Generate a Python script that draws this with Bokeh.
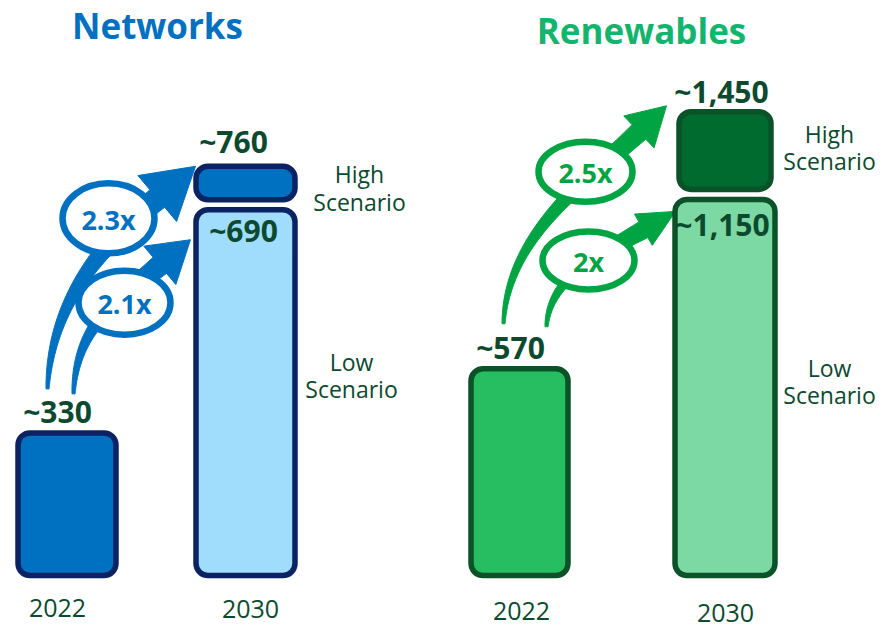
import numpy as np
from bokeh.plotting import figure
from bokeh.layouts import row
from bokeh.models import Range1d
from bokeh.core.properties import value
from bokeh.embed import file_html
from bokeh.resources import INLINE

# ---------------- data ----------------
panel_titles = ["Networks", "Renewables"]
years = ["2022", "2030"]
net_values = [330, 690, 760]          # 2022, 2030 low, 2030 high
ren_values = [570, 1150, 1450]
net_value_labels = ["~330", "~690", "~760"]
ren_value_labels = ["~570", "~1,150", "~1,450"]
net_growth = ["2.1x", "2.3x"]          # low, high
ren_growth = ["2x", "2.5x"]
scenario_labels = ["High\nScenario", "Low\nScenario"]

TXT = "#0B4A2F"
FONT = "Open Sans"
BASE = 575   # pixel row of bar bottoms
H = 628


def cubic(p0, p1, p2, p3, t):
    t = t[:, None]
    return ((1 - t) ** 3) * p0 + 3 * ((1 - t) ** 2) * t * p1 + 3 * (1 - t) * t * t * p2 + (t ** 3) * p3


def cubic_d(p0, p1, p2, p3, t):
    t = t[:, None]
    return 3 * ((1 - t) ** 2) * (p1 - p0) + 6 * (1 - t) * t * (p2 - p1) + 3 * t * t * (p3 - p2)


def arrow_px(tail, tip, d, head_len, head_half, w_base, w_tail, c1_off, c2_len, n=60):
    d = np.array(d, float)
    d = d / np.hypot(*d)
    tip = np.array(tip, float)
    p0 = np.array(tail, float)
    p3 = tip - head_len * d
    p1 = p0 + np.array(c1_off, float)
    p2 = p3 - c2_len * d
    t = np.linspace(0, 1, n)
    pts = cubic(p0, p1, p2, p3, t)
    tg = cubic_d(p0, p1, p2, p3, t)
    tg = tg / np.hypot(tg[:, 0], tg[:, 1])[:, None]
    nrm = np.stack([-tg[:, 1], tg[:, 0]], axis=1)
    w = (w_tail + (w_base - w_tail) * t ** 0.9)[:, None] / 2
    left = pts + nrm * w
    right = pts - nrm * w
    ne = np.array([-d[1], d[0]])
    head = np.array([p3 + ne * head_half, tip, p3 - ne * head_half])
    poly = np.vstack([left, head, right[::-1]])
    return poly[:, 0], poly[:, 1]


def make_panel(cfg):
    S, V0, XOFF = cfg["S"], cfg["V0"], cfg["XOFF"]
    vals = cfg["values"]

    def ypx(v):
        return BASE - S * (v - V0)

    def dx(xp):
        return np.asarray(xp, float) - XOFF

    def dy(yp):
        return V0 + (BASE - np.asarray(yp, float)) / S

    p = figure(width=cfg["W"], height=H, x_range=Range1d(0, cfg["W"]),
               y_range=Range1d(float(dy(H)), float(dy(0))),
               output_backend="svg", toolbar_location=None,
               x_axis_location=None, y_axis_location=None, min_border=0)
    p.grid.visible = False
    p.outline_line_color = None
    p.background_fill_color = "white"
    p.border_fill_color = "white"

    bx = cfg["bar_x"]
    # arrows (behind)
    for spec, lab, tgt in zip(cfg["arrows"], cfg["growth"], [vals[1], vals[2]]):
        tail = (spec["tail_x"], ypx(vals[0]) + spec["tail_dy"])
        tip = (spec["tip_x"], ypx(tgt) + spec["tip_dy"])
        xs, ys = arrow_px(tail, tip, spec["dir"], spec["head_len"], spec["head_half"],
                          spec["w_base"], spec["w_tail"], spec["c1"], spec["c2"])
        p.patch(dx(xs), dy(ys), fill_color=cfg["accent"], line_color=cfg["accent"], line_width=1)
        ex, ey = tip[0] + spec["ell"][0], tip[1] + spec["ell"][1]
        rx, ry = spec["r"]
        p.ellipse(x=[float(dx(ex))], y=[float(dy(ey))], width=2 * rx, height=2 * ry / S,
                  fill_color="white", line_color=cfg["accent"], line_width=6.5)
        p.text(x=[float(dx(ex))], y=[float(dy(ey + 1))], text=[lab], text_font=value(FONT),
               text_font_style="bold", text_font_size="27px", text_color=cfg["accent"],
               text_align="center", text_baseline="middle")

    # bars
    gap = 10 / S
    lefts = [bx[0] - cfg["bar_w"][0] / 2, bx[1] - cfg["bar_w"][1] / 2, bx[1] - cfg["high_w"] / 2]
    rights = [bx[0] + cfg["bar_w"][0] / 2, bx[1] + cfg["bar_w"][1] / 2, bx[1] + cfg["high_w"] / 2]
    bottoms = [V0, V0, vals[1] + gap]
    tops = [vals[0], vals[1], vals[2]]
    for l, r, b, t, f in zip(lefts, rights, bottoms, tops, cfg["fills"]):
        p.quad(left=[float(dx(l))], right=[float(dx(r))], bottom=[b], top=[t],
               fill_color=f, line_color=cfg["border"], line_width=5.5, border_radius=12)

    # value labels (cap-middle positions relative to bar tops)
    lx = cfg["label_x"]
    ly = [ypx(vals[0]) + cfg["label_dy"][0], ypx(vals[1]) + cfg["label_dy"][1],
          ypx(vals[2]) + cfg["label_dy"][2]]
    p.text(x=list(dx(lx)), y=list(dy(ly)), text=cfg["value_labels"], text_font=value(FONT),
           text_font_style="bold", text_font_size="30px", text_color=TXT,
           text_align="center", text_baseline="middle")

    # scenario labels
    hi_mid = (ypx(vals[2]) + ypx(vals[1] + gap)) / 2 + cfg["hi_scen_dy"]
    sx = cfg["scen_x"]
    p.text(x=list(dx(sx)), y=list(dy([hi_mid, cfg["low_scen_y"]])), text=scenario_labels,
           text_font=value(FONT), text_font_size="23px", text_color=TXT,
           text_align="center", text_baseline="middle", text_line_height=0.85)

    # year labels
    p.text(x=list(dx(cfg["year_x"])), y=list(dy(cfg["year_y"])), text=years,
           text_font=value(FONT), text_font_size="25px", text_color=TXT,
           text_align="center", text_baseline="middle")

    # title
    p.text(x=[float(dx(cfg["title_x"]))], y=[float(dy(cfg["title_y"]))], text=[cfg["title"]],
           text_font=value(FONT), text_font_style="bold", text_font_size="35px",
           text_color=cfg["title_color"], text_align="center", text_baseline="middle")
    return p


net_cfg = dict(
    S=0.62, V0=100, XOFF=0, W=441,
    values=net_values, value_labels=net_value_labels, growth=net_growth,
    bar_x=[66.5, 245], bar_w=[98, 99], high_w=99,
    fills=["#0070C0", "#A0DDFD", "#0070C0"], border="#0B2263", accent="#0070C0",
    title=panel_titles[0], title_x=157, title_y=25, title_color="#0070C0",
    label_x=[57, 243, 233], label_dy=[-21, 21, -25],
    scen_x=[359, 351], hi_scen_dy=5, low_scen_y=375,
    year_x=[57, 250], year_y=[607, 608],
    arrows=[
        dict(tail_x=73, tail_dy=-39, tip_x=190, tip_dy=30, dir=(0.767, -0.641), head_len=40,
             head_half=25, w_base=21, w_tail=3, c1=(3, -70), c2=55, ell=(-66, 63), r=(46, 32)),
        dict(tail_x=47, tail_dy=-44, tip_x=195, tip_dy=0, dir=(0.765, -0.644), head_len=50,
             head_half=30, w_base=23, w_tail=3, c1=(4, -90), c2=70, ell=(-87, 52), r=(46, 35)),
    ],
)

ren_cfg = dict(
    S=0.292, V0=-138, XOFF=441, W=441,
    values=ren_values, value_labels=ren_value_labels, growth=ren_growth,
    bar_x=[519, 724.5], bar_w=[97, 100], high_w=92,
    fills=["#27BE62", "#7DD9A3", "#006B2E"], border="#0B5228", accent="#00A443",
    title=panel_titles[1], title_x=641, title_y=30, title_color="#13B46D",
    label_x=[510, 722, 721], label_dy=[-21, 25, -20],
    scen_x=[829, 829], hi_scen_dy=-3, low_scen_y=381,
    year_x=[521, 725], year_y=[610, 612],
    arrows=[
        dict(tail_x=546, tail_dy=-42, tip_x=675, tip_dy=12, dir=(0.869, -0.495), head_len=37,
             head_half=18, w_base=18, w_tail=3, c1=(3, -50), c2=50, ell=(-87, 49), r=(46, 29)),
        dict(tail_x=503, tail_dy=-45, tip_x=666, tip_dy=-6, dir=(0.726, -0.687), head_len=38,
             head_half=22, w_base=20, w_tail=3, c1=(4, -90), c2=70, ell=(-81, 66), r=(47, 30)),
    ],
)

layout = row(make_panel(net_cfg), make_panel(ren_cfg))
open("out.html", "w").write(file_html(layout, INLINE))
